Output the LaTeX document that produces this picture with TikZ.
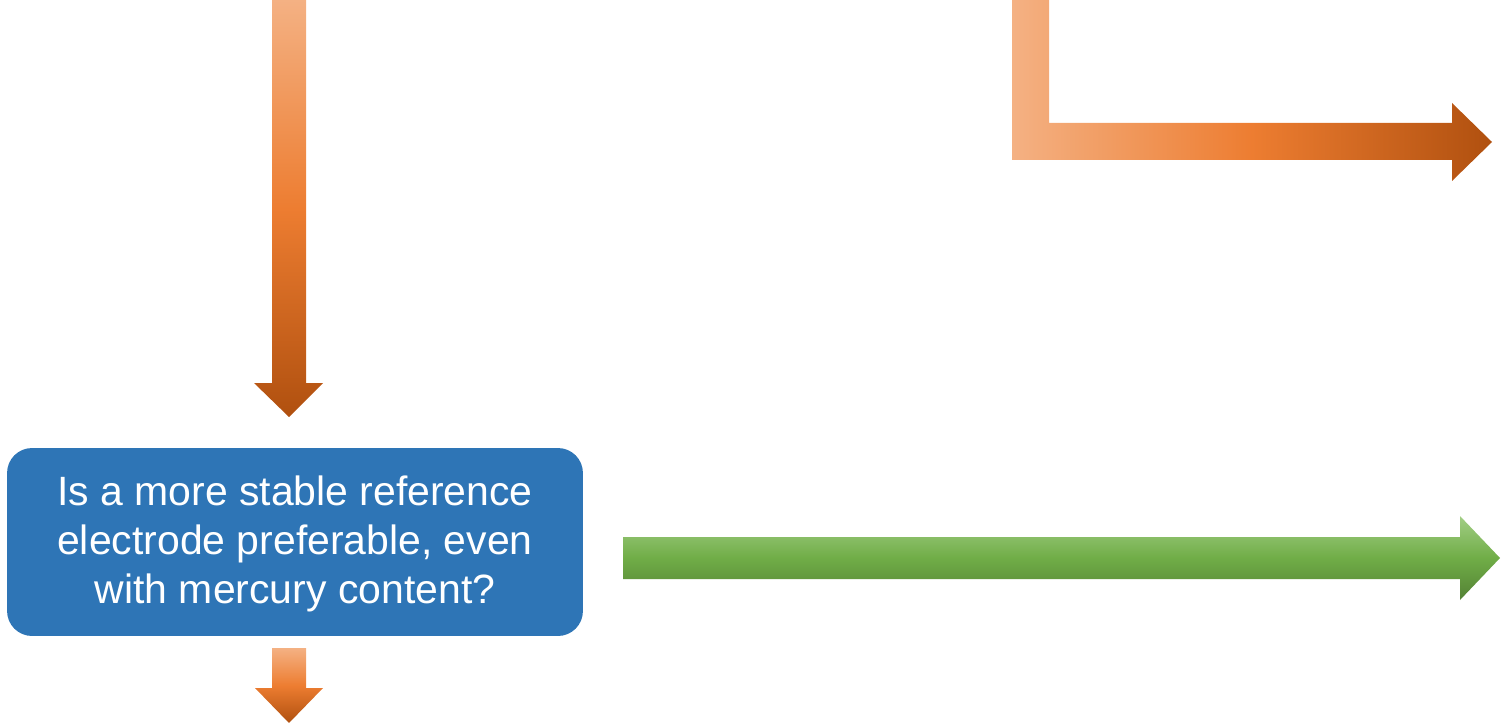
\documentclass[tikz,border=0pt]{standalone}
\usepackage{fontspec}
\setmainfont{Liberation Sans}
\usetikzlibrary{positioning}

\definecolor{orlight}{HTML}{F4B183}
\definecolor{ormid}{HTML}{ED7D31}
\definecolor{ordark}{HTML}{B0500F}
\definecolor{grlight}{HTML}{A2CE85}
\definecolor{grmid}{HTML}{70AD47}
\definecolor{grdark}{HTML}{548235}
\definecolor{boxblue}{HTML}{2E75B6}

\begin{document}
\begin{tikzpicture}[x=0.02cm,y=-0.02cm,
decision/.style={rectangle,rounded corners=0.5cm,fill=boxblue,text=white,align=center,
  minimum width=11.52cm,minimum height=3.76cm,inner sep=0pt,
  font=\fontsize{23.3}{27.9}\selectfont},
downshade/.style={top color=orlight,bottom color=ordark,middle color=ormid},
rightshade/.style={left color=orlight,right color=ordark,middle color=ormid},
greenshade/.style={top color=grlight,bottom color=grdark,middle color=grmid}]

\useasboundingbox (0,0) rectangle (1502,723);

\node[decision] (q) at (295,542) {\rule{0pt}{0.66cm}Is a more stable reference\\electrode preferable, even\\with mercury content?};

% arrow coming in from above
\shade[downshade] (272,0) -- (306,0) -- (306,383) -- (323,383) -- (289,417)
  -- (254,383) -- (272,383) -- cycle;

% bent arrow top right
\shade[rightshade] (1012,0) -- (1049,0) -- (1049,123) -- (1452,123) -- (1452,103)
  -- (1492,142) -- (1452,181) -- (1452,160) -- (1012,160) -- cycle;

% yes
\shade[greenshade] (623,537) -- (1460,537) -- (1460,516) -- (1500,558)
  -- (1460,600) -- (1460,579) -- (623,579) -- cycle;

% no
\shade[downshade] (272,648) -- (306,648) -- (306,688) -- (323,688) -- (289,723)
  -- (255,688) -- (272,688) -- cycle;

\end{tikzpicture}
\end{document}
